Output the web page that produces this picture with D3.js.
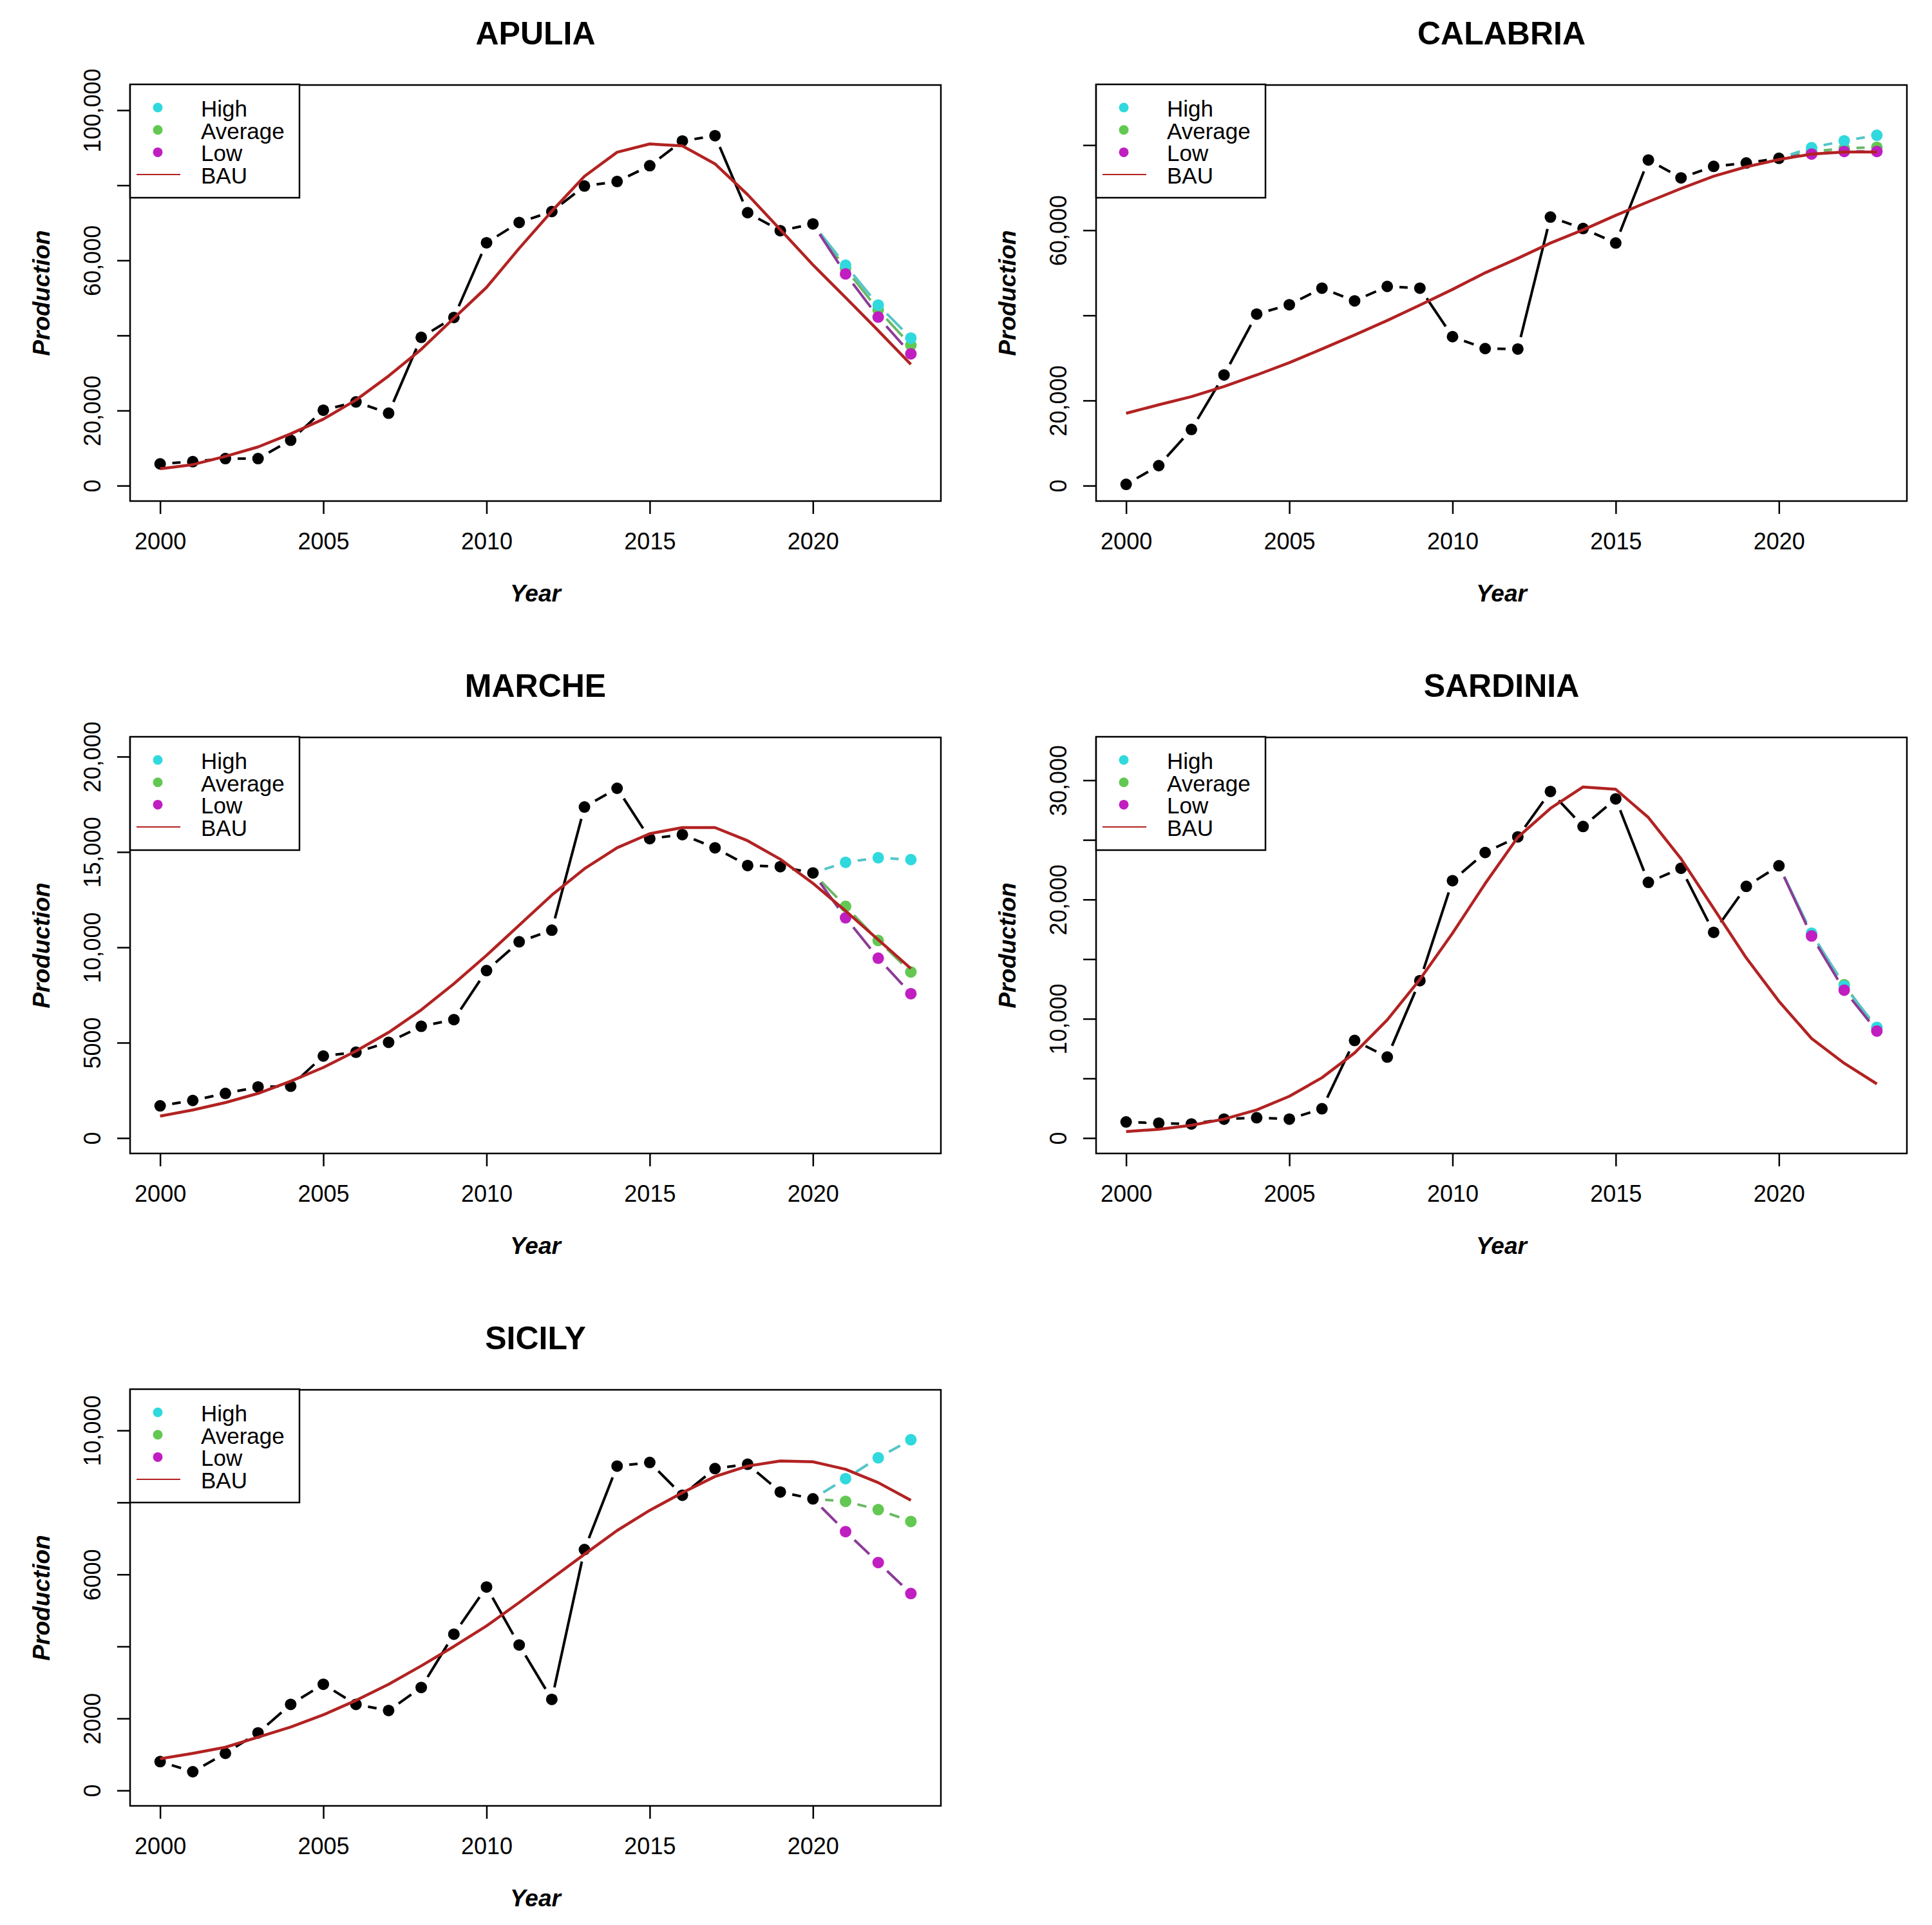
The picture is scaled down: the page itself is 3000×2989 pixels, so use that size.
<!DOCTYPE html>
<html>
<head>
<meta charset="utf-8">
<title>Production by region</title>
<script src="https://d3js.org/d3.v7.min.js"></script>
<style>
body { margin: 0; background: white; }
text { font-family: "Liberation Sans", Arial, sans-serif; fill: black; }
</style>
</head>
<body>
<script>
// ---------- data ----------
var obsYears = [2000, 2001, 2002, 2003, 2004, 2005, 2006, 2007, 2008, 2009, 2010,
                2011, 2012, 2013, 2014, 2015, 2016, 2017, 2018, 2019, 2020];
var scenYears = [2021, 2022, 2023];
var bauYears = [2000, 2001, 2002, 2003, 2004, 2005, 2006, 2007, 2008, 2009, 2010, 2011,
                2012, 2013, 2014, 2015, 2016, 2017, 2018, 2019, 2020, 2021, 2022, 2023];
var xTicks = [2000, 2005, 2010, 2015, 2020];

var regions = ["APULIA", "CALABRIA", "MARCHE", "SARDINIA", "SICILY"];
var yMax = [102600, 90500, 20200, 32300, 10700];

// APULIA
var apuliaObs = [5800, 6400, 7200, 7200, 12100, 20100, 22300, 19300, 39500, 44800, 64700,
                 70100, 73000, 79800, 81000, 85200, 91800, 93200, 72700, 67900, 69700];
var apuliaHigh = [58700, 48100, 39300];
var apuliaAvg = [57800, 46800, 37400];
var apuliaLow = [56400, 44900, 35100];
var apuliaBau = [4500, 5600, 7800, 10300, 13800, 17700, 22800, 29200, 36300, 44600, 52800, 63200,
                 73100, 82400, 88800, 91000, 90500, 85700, 77500, 68200, 58800, 50100, 41300, 32300];
var apuliaTicks = [0, 20000, 40000, 60000, 80000, 100000];
var apuliaTickLabels = ["0", "20,000", "", "60,000", "", "100,000"];

// CALABRIA
var calabriaObs = [300, 4700, 13200, 26000, 40300, 42500, 46400, 43400, 46800, 46400, 35000,
                   32200, 32100, 63100, 60400, 57000, 76500, 72300, 75000, 75800, 76900];
var calabriaHigh = [79400, 81000, 82300];
var calabriaAvg = [78500, 79200, 79500];
var calabriaLow = [77900, 78500, 78500];
var calabriaBau = [17000, 19000, 20900, 23300, 26000, 28900, 32100, 35400, 38800, 42400, 46100, 50000,
                   53400, 57000, 60100, 63500, 66700, 69800, 72700, 74900, 76600, 77900, 78400, 78400];
var calabriaTicks = [0, 20000, 40000, 60000, 80000];
var calabriaTickLabels = ["0", "20,000", "", "60,000", ""];

// MARCHE
var marcheObs = [1690, 1970, 2340, 2680, 2720, 4300, 4500, 5020, 5860, 6210, 8780,
                 10290, 10900, 17360, 18340, 15700, 15910, 15220, 14290, 14230, 13900];
var marcheHigh = [14460, 14700, 14600];
var marcheAvg = [12150, 10360, 8710];
var marcheLow = [11550, 9430, 7570];
var marcheBau = [1150, 1470, 1860, 2340, 2980, 3700, 4560, 5540, 6720, 8090, 9580, 11160,
                 12740, 14120, 15220, 15960, 16280, 16280, 15590, 14620, 13360, 11910, 10400, 8890];
var marcheTicks = [0, 5000, 10000, 15000, 20000];
var marcheTickLabels = ["0", "5000", "10,000", "15,000", "20,000"];

// SARDINIA
var sardiniaObs = [1350, 1250, 1180, 1590, 1700, 1590, 2460, 8180, 6790, 13200, 21580,
                   23940, 25250, 29060, 26120, 28440, 21440, 22620, 17250, 21100, 22830];
var sardiniaHigh = [17180, 12750, 9280];
var sardiniaAvg = [17080, 12850, 9150];
var sardiniaLow = [16940, 12400, 8970];
var sardiniaBau = [550, 730, 1070, 1590, 2360, 3500, 5060, 7140, 9910, 13300, 17180, 21340,
                   25220, 27640, 29440, 29240, 26880, 23420, 19260, 15100, 11470, 8350, 6270, 4540];
var sardiniaTicks = [0, 5000, 10000, 15000, 20000, 25000, 30000];
var sardiniaTickLabels = ["0", "", "10,000", "", "20,000", "", "30,000"];

// SICILY
var sicilyObs = [800, 520, 1030, 1600, 2390, 2950, 2390, 2220, 2860, 4340, 5650,
                 4040, 2530, 6690, 9010, 9110, 8200, 8940, 9060, 8290, 8100];
var sicilyHigh = [8660, 9240, 9740];
var sicilyAvg = [8030, 7800, 7470];
var sicilyLow = [7190, 6330, 5470];
var sicilyBau = [880, 1030, 1200, 1480, 1760, 2100, 2500, 2950, 3460, 4000, 4570, 5220,
                 5890, 6560, 7220, 7780, 8270, 8720, 9010, 9150, 9130, 8920, 8550, 8060];
var sicilyTicks = [0, 2000, 4000, 6000, 8000, 10000];
var sicilyTickLabels = ["0", "2000", "", "6000", "", "10,000"];

// table built from the arrays above
var panels = [
    {obs: apuliaObs, high: apuliaHigh, avg: apuliaAvg, low: apuliaLow, bau: apuliaBau, ticks: apuliaTicks, labels: apuliaTickLabels},
    {obs: calabriaObs, high: calabriaHigh, avg: calabriaAvg, low: calabriaLow, bau: calabriaBau, ticks: calabriaTicks, labels: calabriaTickLabels},
    {obs: marcheObs, high: marcheHigh, avg: marcheAvg, low: marcheLow, bau: marcheBau, ticks: marcheTicks, labels: marcheTickLabels},
    {obs: sardiniaObs, high: sardiniaHigh, avg: sardiniaAvg, low: sardiniaLow, bau: sardiniaBau, ticks: sardiniaTicks, labels: sardiniaTickLabels},
    {obs: sicilyObs, high: sicilyHigh, avg: sicilyAvg, low: sicilyLow, bau: sicilyBau, ticks: sicilyTicks, labels: sicilyTickLabels}
];

// ---------- layout / style ----------
var width = 3000, height = 2989;
var colW = 1500, rowH = 1013;
var boxL = 202, boxR = 1461, boxT = 132, boxB = 778;
var gap = 19;              // type="b" style gap around points
var ptR = 9;
var bauColor = "#b22222";
var scen = [
    {key: "avg",  point: "#62c852", line: "#6bb866"},
    {key: "high", point: "#30d9dd", line: "#55c5c8"},
    {key: "low",  point: "#c01ec0", line: "#8c3a96"}
];
var legendItems = [
    {label: "High", color: "#30d9dd"},
    {label: "Average", color: "#62c852"},
    {label: "Low", color: "#c01ec0"},
    {label: "BAU", color: bauColor, line: true}
];

var svg = d3.select("body").append("svg")
    .attr("width", width)
    .attr("height", height);
svg.append("rect").attr("width", width).attr("height", height).attr("fill", "white");

// shorten each segment so it stops short of the points
function gapSegments(pts) {
    return d3.pairs(pts).map(function (p) {
        var dx = p[1][0] - p[0][0], dy = p[1][1] - p[0][1];
        var len = Math.sqrt(dx * dx + dy * dy);
        if (len <= 2 * gap) return null;
        var ux = dx / len, uy = dy / len;
        return [p[0][0] + ux * gap, p[0][1] + uy * gap, p[1][0] - ux * gap, p[1][1] - uy * gap];
    }).filter(function (s) { return s !== null; });
}

function drawSegments(g, pts, color) {
    g.selectAll(null)
        .data(gapSegments(pts))
        .enter()
        .append("line")
        .attr("x1", function (d) { return d[0]; })
        .attr("y1", function (d) { return d[1]; })
        .attr("x2", function (d) { return d[2]; })
        .attr("y2", function (d) { return d[3]; })
        .attr("stroke", color)
        .attr("stroke-width", 4)
        .attr("stroke-linecap", "butt");
}

function drawPoints(g, pts, color) {
    g.selectAll(null)
        .data(pts)
        .enter()
        .append("circle")
        .attr("cx", function (d) { return d[0]; })
        .attr("cy", function (d) { return d[1]; })
        .attr("r", ptR)
        .attr("fill", color);
}

panels.forEach(function (p, i) {
    var ox = (i % 2) * colW, oy = Math.floor(i / 2) * rowH;
    var g = svg.append("g").attr("transform", "translate(" + ox + "," + oy + ")");

    var x = d3.scaleLinear()
        .domain([2000 - 0.04 * 23, 2023 + 0.04 * 23])
        .range([boxL, boxR]);
    var y = d3.scaleLinear()
        .domain([-0.04 * yMax[i], 1.04 * yMax[i]])
        .range([boxB, boxT]);

    // axes
    var xAxis = g.append("g")
        .attr("transform", "translate(0," + boxB + ")")
        .call(d3.axisBottom(x).tickValues(xTicks).tickSize(20).tickFormat(d3.format("d")));
    xAxis.select(".domain").remove();
    xAxis.selectAll("line").attr("stroke-width", 2.5);
    xAxis.selectAll("text")
        .attr("y", 75).attr("dy", 0)
        .style("font-size", "36px")
        .style("font-family", '"Liberation Sans", Arial, sans-serif');

    var yAxis = g.append("g")
        .attr("transform", "translate(" + boxL + ",0)")
        .call(d3.axisLeft(y).tickValues(p.ticks).tickSize(20)
            .tickFormat(function (d, k) { return p.labels[k]; }));
    yAxis.select(".domain").remove();
    yAxis.selectAll("line").attr("stroke-width", 2.5);
    yAxis.selectAll("text")
        .attr("x", 0).attr("dy", 0)
        .attr("transform", "translate(" + (156 - boxL) + ",0) rotate(-90)")
        .attr("text-anchor", "middle")
        .style("font-size", "36px")
        .style("font-family", '"Liberation Sans", Arial, sans-serif');

    // observed series
    var obsPts = obsYears.map(function (yr, k) { return [x(yr), y(p.obs[k])]; });
    drawSegments(g, obsPts, "black");
    drawPoints(g, obsPts, "black");

    // scenarios start from the 2020 observation
    var last = obsPts[obsPts.length - 1];
    scen.forEach(function (s) {
        var pts = [last].concat(scenYears.map(function (yr, k) { return [x(yr), y(p[s.key][k])]; }));
        drawSegments(g, pts, s.line);
        drawPoints(g, pts.slice(1), s.point);
    });

    // BAU curve on top
    var line = d3.line()
        .x(function (d, k) { return x(bauYears[k]); })
        .y(function (d) { return y(d); });
    g.append("path")
        .datum(p.bau)
        .attr("d", line)
        .attr("fill", "none")
        .attr("stroke", bauColor)
        .attr("stroke-width", 4.5)
        .attr("stroke-linejoin", "round");

    // box
    g.append("rect")
        .attr("x", boxL).attr("y", boxT)
        .attr("width", boxR - boxL).attr("height", boxB - boxT)
        .attr("fill", "none").attr("stroke", "black").attr("stroke-width", 2.5);

    // legend
    var lg = g.append("g");
    lg.append("rect")
        .attr("x", boxL).attr("y", boxT - 1)
        .attr("width", 263).attr("height", 176)
        .attr("fill", "white").attr("stroke", "black").attr("stroke-width", 2.5);
    legendItems.forEach(function (it, k) {
        var cy = 167 + k * 34.7;
        if (it.line) {
            lg.append("line").attr("x1", 212).attr("x2", 280).attr("y1", cy).attr("y2", cy)
                .attr("stroke", it.color).attr("stroke-width", 2);
        } else {
            lg.append("circle").attr("cx", 245).attr("cy", cy).attr("r", 7.5).attr("fill", it.color);
        }
        lg.append("text").attr("x", 312).attr("y", cy + 14)
            .style("font-size", "35px").text(it.label);
    });

    // titles
    g.append("text")
        .attr("x", (boxL + boxR) / 2).attr("y", 69)
        .attr("text-anchor", "middle")
        .style("font-size", "50px").style("font-weight", "bold")
        .text(regions[i]);
    g.append("text")
        .attr("x", (boxL + boxR) / 2).attr("y", 934)
        .attr("text-anchor", "middle")
        .style("font-size", "37px").style("font-weight", "bold").style("font-style", "italic")
        .text("Year");
    g.append("text")
        .attr("transform", "translate(77," + (boxT + boxB) / 2 + ") rotate(-90)")
        .attr("text-anchor", "middle")
        .style("font-size", "37px").style("font-weight", "bold").style("font-style", "italic")
        .text("Production");
});
</script>
</body>
</html>
